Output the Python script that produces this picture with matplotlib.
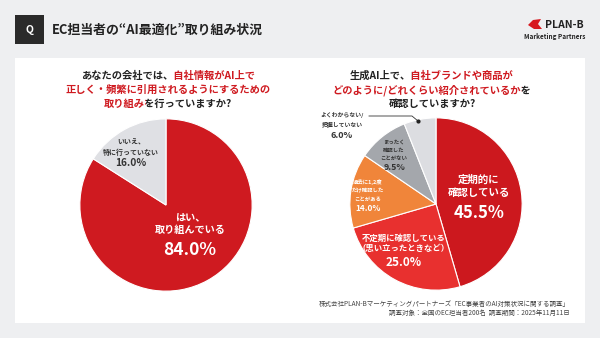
import matplotlib
matplotlib.use("Agg")
import matplotlib.pyplot as plt
from matplotlib.patches import Rectangle, Polygon
from matplotlib.transforms import Bbox

plt.rcParams['font.family'] = ['Noto Sans CJK JP', 'DejaVu Sans']

# ------------------ Datos ------------------
q1_labels = ["はい、\n取り組んでいる", "いいえ、\n特に行っていない"]
q1_values = [84.0, 16.0]

q2_labels = ["定期的に\n確認している",
             "不定期に確認している\n（思い立ったときなど）",
             "過去に1,2度\nだけ確認した\nことがある",
             "まったく\n確認した\nことがない",
             "よくわからない/\n把握していない"]
q2_values = [45.5, 25.0, 14.0, 9.5, 6.0]

RED = "#cf1a20"
DARK = "#222222"

q1_colors = [RED, "#dfe0e4"]
q2_colors = ["#cc181e", "#e8302f", "#f0853a", "#a4a7ac", "#dcdde1"]

W, H = 600, 338
fig = plt.figure(figsize=(W / 100, H / 100), dpi=100)
fig.patch.set_facecolor("#eeeff1")

# fondo en píxeles (tarjeta blanca)
base = fig.add_axes([0, 0, 1, 1])
base.set_xlim(0, W)
base.set_ylim(H, 0)
base.axis("off")
base.add_patch(Rectangle((15, 58), 570, 265, facecolor="white", edgecolor="none"))


def add_pie(cx, cy, r, values, colors):
    ax = fig.add_axes([(cx - r) / W, (H - cy - r) / H, 2 * r / W, 2 * r / H])
    ax.pie(values, colors=colors, startangle=90, counterclock=False,
           wedgeprops=dict(edgecolor="white", linewidth=0.8))
    ax.set_xlim(-1.01, 1.01)
    ax.set_ylim(-1.01, 1.01)
    ax.set_aspect("equal")
    return ax


add_pie(166, 205, 87, q1_values, q1_colors)
add_pie(436, 204, 87, q2_values, q2_colors)

# capa superior para textos
top = fig.add_axes([0, 0, 1, 1])
top.set_xlim(0, W)
top.set_ylim(H, 0)
top.axis("off")
top.patch.set_alpha(0)

# cabecera
top.add_patch(Rectangle((15, 15), 29, 29, facecolor="#2a2a2a", edgecolor="none"))
top.text(29.5, 30, "Q", color="white", fontsize=7.5, fontweight="bold",
         ha="center", va="center")
top.text(52, 30, "EC担当者の“AI最適化”取り組み状況", color=DARK, fontsize=9.3,
         fontweight="bold", ha="left", va="center")

# logo
top.add_patch(Polygon([(528, 25), (533, 20), (541, 19), (538, 24), (542, 29),
                       (534, 29)], closed=True, facecolor="#d7191f", edgecolor="none"))
top.text(545, 24.5, "PLAN-B", color=DARK, fontsize=7.5, fontweight="bold",
         ha="left", va="center")
top.text(585, 36.5, "Marketing Partners", color=DARK, fontsize=4.6,
         fontweight="bold", ha="right", va="center")

renderer = fig.canvas.get_renderer()


def text_width(s, size):
    t = top.text(0, 0, s, fontsize=size, fontweight="bold")
    w = t.get_window_extent(renderer).width
    t.remove()
    return w


def mixed_line(x, y, parts, size=7.4):
    # la línea completa se dibuja una vez por color y se recorta por tramos
    full = "".join(p for p, _ in parts)
    total = text_width(full, size)
    x0 = x - total / 2
    edges = [x0 - 5]
    for k in range(1, len(parts)):
        prefix = "".join(p for p, _ in parts[:k])
        edges.append(x0 + text_width(prefix, size) + 0.8)
    edges.append(x0 + total + 5)
    for k, (_, c) in enumerate(parts):
        t = top.text(x, y, full, color=c, fontsize=size, fontweight="bold",
                     ha="center", va="center")
        (ax0, ay0), (ax1, ay1) = top.transData.transform(
            [(edges[k], y - 10), (edges[k + 1], y + 10)])
        t.set_clip_box(Bbox.from_extents(min(ax0, ax1), min(ay0, ay1),
                                         max(ax0, ax1), max(ay0, ay1)))
        t.set_clip_on(True)


# preguntas
mixed_line(168, 76, [("あなたの会社では、", DARK), ("自社情報がAI上で", RED)])
mixed_line(168, 90, [("正しく・頻繁に引用されるようにするための", RED)])
mixed_line(168, 104, [("取り組み", RED), ("を行っていますか?", DARK)])

mixed_line(432, 76, [("生成AI上で、", DARK), ("自社ブランドや商品が", RED)])
mixed_line(432, 90, [("どのように/どれくらい紹介されているか", RED), ("を", DARK)])
mixed_line(432, 104, [("確認していますか?", DARK)])


def pie_label(x, y, label, value, size, psize, color, gap, pgap):
    lines = label.split("\n")
    for i, ln in enumerate(lines):
        top.text(x, y + i * gap, ln, color=color, fontsize=size, fontweight="bold",
                 ha="center", va="center")
    top.text(x, y + (len(lines) - 1) * gap + pgap, f"{value:.1f}%", color=color,
             fontsize=psize, fontweight="bold", ha="center", va="center")


# etiquetas gráfico izquierdo
pie_label(190, 218, q1_labels[0], q1_values[0], 7.3, 12.5, "white", 12.5, 19.5)
pie_label(131, 142, q1_labels[1], q1_values[1], 5.0, 7.3, "#333333", 10, 11)

# etiquetas gráfico derecho
pie_label(479, 180, q2_labels[0], q2_values[0], 7.5, 12, "white", 13, 20)
pie_label(404, 238, q2_labels[1], q2_values[1], 6.0, 8.5, "white", 11, 14)
pie_label(368, 182, q2_labels[2], q2_values[2], 3.9, 6.0, "white", 8.5, 9.5)
pie_label(394, 142, q2_labels[3], q2_values[3], 3.9, 6.3, "#333333", 8, 9.5)
pie_label(342, 115, q2_labels[4], q2_values[4], 4.2, 6.5, "#333333", 9.5, 10.5)

# línea guía hacia el segmento más pequeño
top.plot([369, 412, 418], [116, 116, 121], color="#333333", lw=0.6)
top.plot([418], [121], marker="o", ms=2, color="#222222")

# fuente
top.text(570, 304, "株式会社PLAN-Bマーケティングパートナーズ「EC事業者のAI対策状況に関する調査」",
         color="#444444", fontsize=4.7, ha="right", va="center")
top.text(570, 313, "調査対象：全国のEC担当者200名  調査期間：2025年11月11日",
         color="#444444", fontsize=4.7, ha="right", va="center")

fig.savefig("out.png", dpi=100)
